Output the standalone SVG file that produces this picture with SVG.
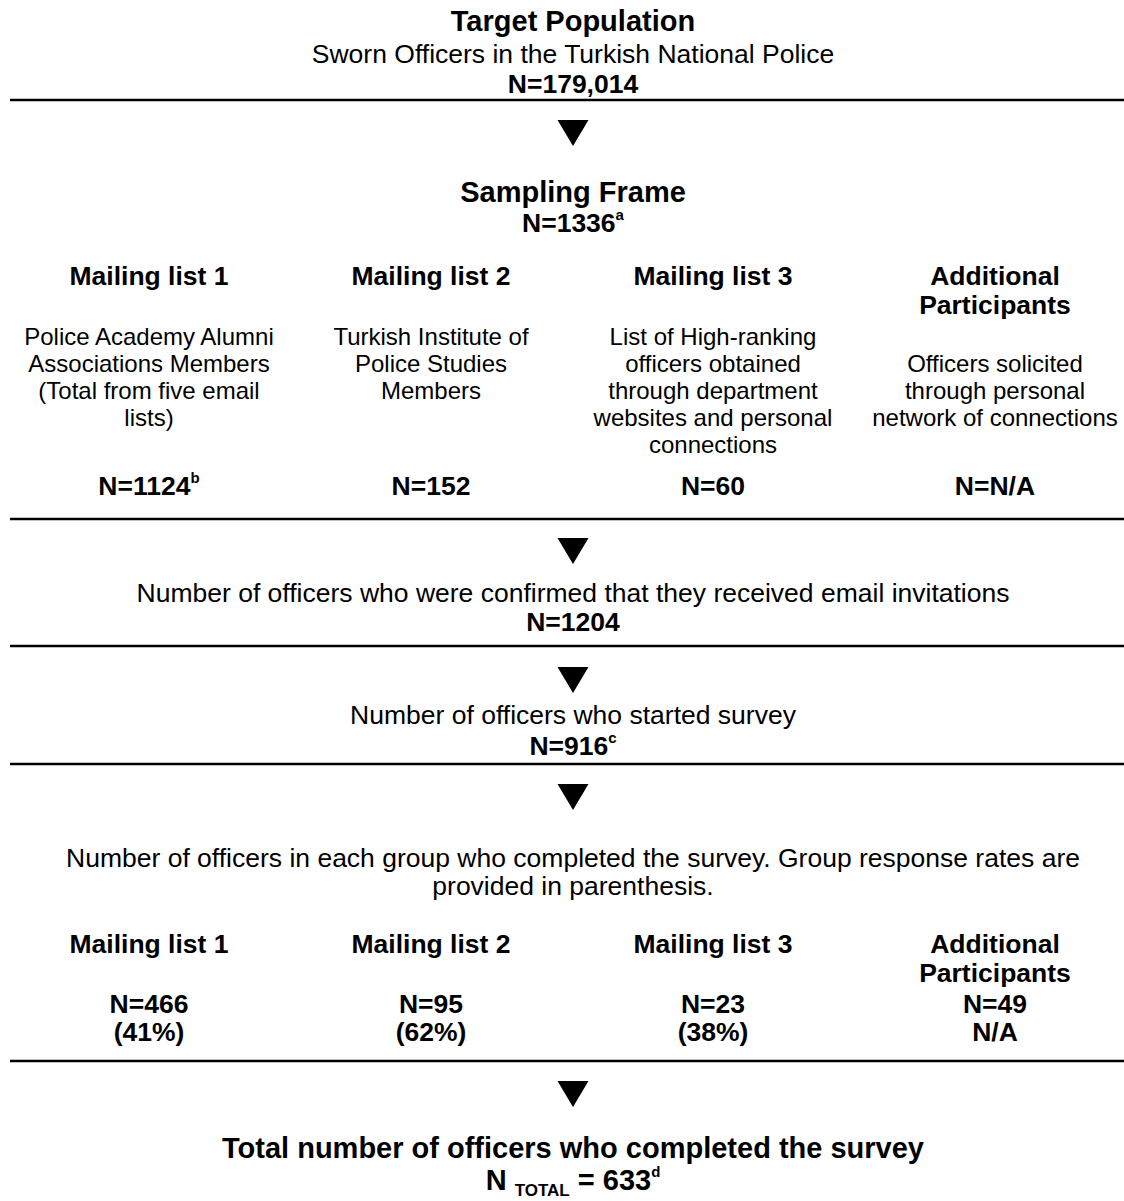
<svg xmlns="http://www.w3.org/2000/svg" width="1124" height="1201" viewBox="0 0 1124 1201">
<style>
text { font-family: "Liberation Sans", Arial, sans-serif; fill: #000; text-anchor: middle; }
.h { font-size: 29px; font-weight: bold; }
.b { font-size: 26.5px; font-weight: bold; }
.r { font-size: 26.5px; }
.s { font-size: 24px; }
.sup { font-size: 15px; font-weight: bold; }
.sub { font-size: 17px; font-weight: bold; }
.sep { stroke: #000; stroke-width: 2.5; }
.tri { fill: #000; }
</style>
<defs>
<polygon id="arrow" points="-15.5,0 15.5,0 0,26"/>
</defs>
<rect width="1124" height="1201" fill="#fff"/>

<g id="target-population">
<text class="h" x="573" y="31">Target Population</text>
<text class="r" x="573" y="63">Sworn Officers in the Turkish National Police</text>
<text class="b" x="573" y="93">N=179,014</text>
</g>

<g id="sampling-frame">
<text class="h" x="573" y="202">Sampling Frame</text>
<text class="b" x="573" y="232">N=1336<tspan class="sup" dy="-12">a</tspan></text>
</g>

<g id="mailing-list-1">
<text class="b" x="149" y="285">Mailing list 1</text>
<text class="s" x="149" y="345">Police Academy Alumni</text>
<text class="s" x="149" y="372">Associations Members</text>
<text class="s" x="149" y="399">(Total from five email</text>
<text class="s" x="149" y="426">lists)</text>
<text class="b" x="149" y="495">N=1124<tspan class="sup" dy="-12">b</tspan></text>
</g>

<g id="mailing-list-2">
<text class="b" x="431" y="285">Mailing list 2</text>
<text class="s" x="431" y="345">Turkish Institute of</text>
<text class="s" x="431" y="372">Police Studies</text>
<text class="s" x="431" y="399">Members</text>
<text class="b" x="431" y="495">N=152</text>
</g>

<g id="mailing-list-3">
<text class="b" x="713" y="285">Mailing list 3</text>
<text class="s" x="713" y="345">List of High-ranking</text>
<text class="s" x="713" y="372">officers obtained</text>
<text class="s" x="713" y="399">through department</text>
<text class="s" x="713" y="426">websites and personal</text>
<text class="s" x="713" y="453">connections</text>
<text class="b" x="713" y="495">N=60</text>
</g>

<g id="additional-participants">
<text class="b" x="995" y="285">Additional</text>
<text class="b" x="995" y="314">Participants</text>
<text class="s" x="995" y="372">Officers solicited</text>
<text class="s" x="995" y="399">through personal</text>
<text class="s" x="995" y="426">network of connections</text>
<text class="b" x="995" y="495">N=N/A</text>
</g>

<g id="confirmed-invitations">
<text class="r" x="573" y="602">Number of officers who were confirmed that they received email invitations</text>
<text class="b" x="573" y="631">N=1204</text>
</g>

<g id="started-survey">
<text class="r" x="573" y="724">Number of officers who started survey</text>
<text class="b" x="573" y="755">N=916<tspan class="sup" dy="-12">c</tspan></text>
</g>

<g id="completed-by-group">
<text class="r" x="573" y="867">Number of officers in each group who completed the survey. Group response rates are</text>
<text class="r" x="573" y="895">provided in parenthesis.</text>
</g>

<g id="completed-mailing-list-1">
<text class="b" x="149" y="953">Mailing list 1</text>
<text class="b" x="149" y="1013">N=466</text>
<text class="b" x="149" y="1041">(41%)</text>
</g>

<g id="completed-mailing-list-2">
<text class="b" x="431" y="953">Mailing list 2</text>
<text class="b" x="431" y="1013">N=95</text>
<text class="b" x="431" y="1041">(62%)</text>
</g>

<g id="completed-mailing-list-3">
<text class="b" x="713" y="953">Mailing list 3</text>
<text class="b" x="713" y="1013">N=23</text>
<text class="b" x="713" y="1041">(38%)</text>
</g>

<g id="completed-additional-participants">
<text class="b" x="995" y="953">Additional</text>
<text class="b" x="995" y="982">Participants</text>
<text class="b" x="995" y="1013">N=49</text>
<text class="b" x="995" y="1041">N/A</text>
</g>

<g id="total-completed">
<text class="h" x="573" y="1158">Total number of officers who completed the survey</text>
<text class="h" x="573" y="1190">N <tspan class="sub" dy="6">TOTAL</tspan><tspan dy="-6"> = 633</tspan><tspan class="sup" dy="-13">d</tspan></text>
</g>

<g id="separators">
<line class="sep" x1="10" y1="100" x2="1124" y2="100"/>
<line class="sep" x1="10" y1="519" x2="1124" y2="519"/>
<line class="sep" x1="10" y1="646" x2="1124" y2="646"/>
<line class="sep" x1="10" y1="764" x2="1124" y2="764"/>
<line class="sep" x1="10" y1="1061" x2="1124" y2="1061"/>
</g>

<g id="connectors">
<use href="#arrow" class="tri" x="573" y="120"/>
<use href="#arrow" class="tri" x="573" y="538"/>
<use href="#arrow" class="tri" x="573" y="667"/>
<use href="#arrow" class="tri" x="573" y="784"/>
<use href="#arrow" class="tri" x="573" y="1081"/>
</g>
</svg>
